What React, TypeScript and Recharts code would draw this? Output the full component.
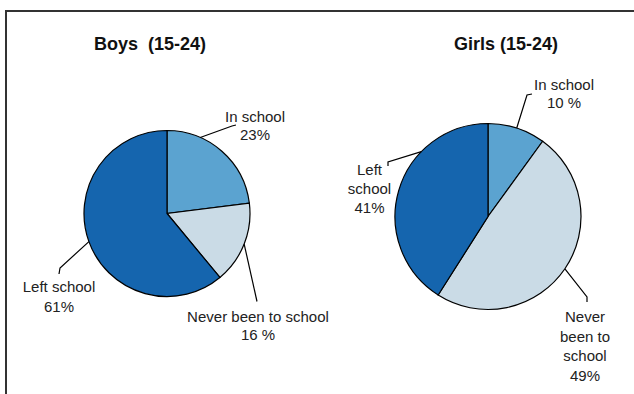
import React from "react";
import { PieChart, Pie, Cell } from "recharts";

// school attendance, ages 15-24
const categories = ["In school", "Never been to school", "Left school"];
const boysValues = [23, 16, 61];
const girlsValues = [10, 49, 41];
const boysPctText = ["23%", "16 %", "61%"];
const girlsPctText = ["10 %", "49%", "41%"];
const boysLabelLines = [["In school"], ["Never been to school"], ["Left school"]];
const girlsLabelLines = [["In school"], ["Never", "been to", "school"], ["Left", "school"]];
const titles = ["Boys  (15-24)", "Girls (15-24)"];

const COLORS = ["#5ba3d0", "#cadbe6", "#1565ae"];
const FONT = "'Liberation Sans', Arial, sans-serif";

type Layout = {
  shift: number;
  elbow: [number, number];
  end: [number, number];
  text: [number, number];
  lh: number;
};

// leader line / label placement, relative to pie centre
const boysLayout: Layout[] = [
  { shift: 17.8, elbow: [65, -87.5], end: [69, -88.5], text: [88, -91.5], lh: 18 },
  { shift: 0, elbow: [90, 88], end: [90, 88], text: [91, 108.5], lh: 18 },
  { shift: 0, elbow: [-107, 54.5], end: [-108, 60.5], text: [-108, 78.5], lh: 20 },
];
const girlsLayout: Layout[] = [
  { shift: 0, elbow: [39, -121.5], end: [44, -122.5], text: [76, -126.5], lh: 18 },
  { shift: 0, elbow: [99, 80.5], end: [99, 85.5], text: [97, 105.5], lh: 19.5 },
  { shift: -28, elbow: [-100, -54.5], end: [-100, -50.5], text: [-118.5, -41.5], lh: 19 },
];

const boysData = categories.map((name, i) => ({ name, value: boysValues[i] }));
const girlsData = categories.map((name, i) => ({ name, value: girlsValues[i] }));

const makeLabel = (lines: string[][], pct: string[], layout: Layout[]) => (props: any) => {
  const { cx, cy, midAngle, outerRadius, index } = props;
  const L = layout[index];
  const a = (-(midAngle + L.shift) * Math.PI) / 180;
  const sx = cx + outerRadius * Math.cos(a);
  const sy = cy + outerRadius * Math.sin(a);
  const rows = [...lines[index], pct[index]];
  const tx = cx + L.text[0];
  return (
    <g key={`lbl-${index}`}>
      <polyline
        points={`${sx},${sy} ${cx + L.elbow[0]},${cy + L.elbow[1]} ${cx + L.end[0]},${cy + L.end[1]}`}
        fill="none"
        stroke="#000"
        strokeWidth={1.2}
      />
      <text x={tx} y={cy + L.text[1]} textAnchor="middle" fontFamily={FONT} fontSize={15} fill="#222">
        {rows.map((r, i) => (
          <tspan key={i} x={tx} dy={i === 0 ? 0 : L.lh}>
            {r}
          </tspan>
        ))}
      </text>
    </g>
  );
};

export default function App() {
  return (
    <div style={{ position: "absolute", left: 0, top: 0, width: 634, height: 394, background: "#fff" }}>
      <PieChart width={634} height={394} margin={{ top: 0, right: 0, bottom: 0, left: 0 }}>
        <Pie
          data={boysData}
          dataKey="value"
          nameKey="name"
          cx={167}
          cy={213.5}
          outerRadius={83}
          startAngle={90}
          endAngle={-270}
          stroke="#000"
          strokeWidth={1.2}
          label={makeLabel(boysLabelLines, boysPctText, boysLayout)}
          labelLine={false}
          isAnimationActive={false}
        >
          {boysData.map((d, i) => (
            <Cell key={d.name} fill={COLORS[i]} />
          ))}
        </Pie>
        <Pie
          data={girlsData}
          dataKey="value"
          nameKey="name"
          cx={488}
          cy={216.5}
          outerRadius={93}
          startAngle={90}
          endAngle={-270}
          stroke="#000"
          strokeWidth={1.2}
          label={makeLabel(girlsLabelLines, girlsPctText, girlsLayout)}
          labelLine={false}
          isAnimationActive={false}
        >
          {girlsData.map((d, i) => (
            <Cell key={d.name} fill={COLORS[i]} />
          ))}
        </Pie>
      </PieChart>
      <svg
        width={634}
        height={394}
        style={{ position: "absolute", left: 0, top: 0, pointerEvents: "none" }}
      >
        <line x1={6} y1={10} x2={6} y2={394} stroke="#333" strokeWidth={2} />
        <line x1={5} y1={11} x2={634} y2={11} stroke="#333" strokeWidth={2} />
        <text
          x={150}
          y={50}
          textAnchor="middle"
          fontFamily={FONT}
          fontSize={18}
          fontWeight="bold"
          fill="#111"
          style={{ whiteSpace: "pre" }}
        >
          {titles[0]}
        </text>
        <text
          x={506}
          y={50}
          textAnchor="middle"
          fontFamily={FONT}
          fontSize={18}
          fontWeight="bold"
          fill="#111"
          style={{ whiteSpace: "pre" }}
        >
          {titles[1]}
        </text>
      </svg>
    </div>
  );
}
